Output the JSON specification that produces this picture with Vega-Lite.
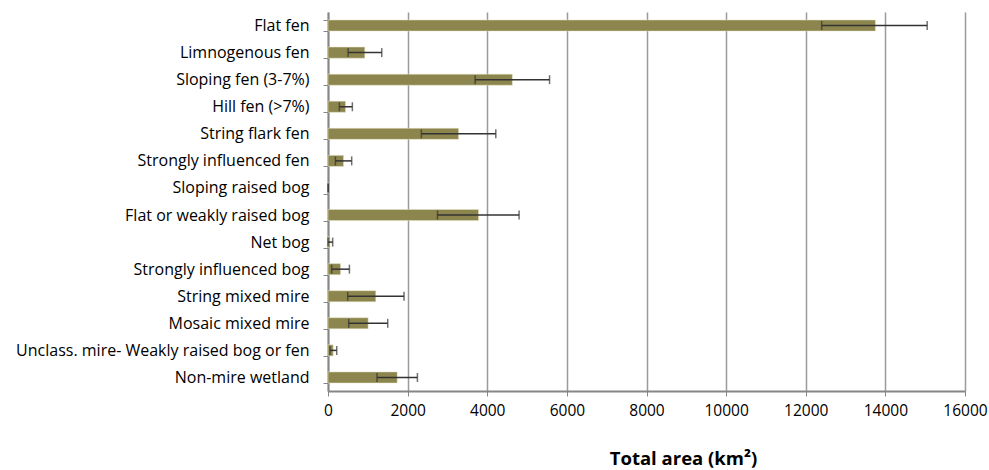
{
  "$schema": "https://vega.github.io/schema/vega-lite/v6.json",
  "width": 637,
  "height": 379,
  "autosize": "none",
  "padding": {"left": 328, "top": 12, "right": 24, "bottom": 79},
  "background": "white",
  "config": {
    "view": {"stroke": null},
    "font": "Open Sans"
  },
  "data": {
    "values": [
      {"type": "Flat fen", "area": 13750, "low": 12400, "high": 15050},
      {"type": "Limnogenous fen", "area": 925, "low": 505, "high": 1350},
      {"type": "Sloping fen (3-7%)", "area": 4630, "low": 3695, "high": 5565},
      {"type": "Hill fen (>7%)", "area": 440, "low": 285, "high": 612},
      {"type": "String flark fen", "area": 3280, "low": 2345, "high": 4215},
      {"type": "Strongly influenced fen", "area": 390, "low": 186, "high": 595},
      {"type": "Sloping  raised bog", "area": 5, "low": 5, "high": 5},
      {"type": "Flat or weakly raised bog", "area": 3780, "low": 2750, "high": 4800},
      {"type": "Net bog", "area": 50, "low": 0, "high": 118},
      {"type": "Strongly influenced bog", "area": 315, "low": 93, "high": 538},
      {"type": "String mixed mire", "area": 1200, "low": 495, "high": 1910},
      {"type": "Mosaic mixed mire", "area": 1008, "low": 520, "high": 1500},
      {"type": "Unclass. mire- Weakly raised bog or fen", "area": 130, "low": 50, "high": 219},
      {"type": "Non-mire wetland", "area": 1738, "low": 1231, "high": 2246}
    ]
  },
  "encoding": {
    "y": {
      "field": "type",
      "type": "nominal",
      "sort": null,
      "scale": {"paddingInner": 0.59, "paddingOuter": 0.295},
      "axis": {
        "title": null,
        "tickBand": "extent",
        "tickSize": 5,
        "tickColor": "#868686",
        "tickWidth": 1,
        "domainColor": "#868686",
        "domainWidth": 2,
        "labelFontSize": 16,
        "labelColor": "#000000",
        "labelPadding": 14,
        "labelLimit": 400,
        "grid": false
      }
    }
  },
  "layer": [
    {
      "mark": {"type": "bar", "color": "#8C864E", "stroke": "#E8E4C8", "strokeWidth": 0.5},
      "encoding": {
        "x": {
          "field": "area",
          "type": "quantitative",
          "scale": {"domain": [0, 16000], "nice": false},
          "axis": {
            "title": "Total area (km²)",
            "titleFontSize": 18.5,
            "titleFontWeight": "bold",
            "titleColor": "#000000",
            "titleX": 355,
            "titleY": 73,
            "titleBaseline": "alphabetic",
            "values": [0, 2000, 4000, 6000, 8000, 10000, 12000, 14000, 16000],
            "format": "d",
            "labelFontSize": 15.5,
            "labelColor": "#000000",
            "labelPadding": 7,
            "labelFlush": false,
            "tickSize": 5,
            "tickColor": "#868686",
            "domainColor": "#868686",
            "domainWidth": 2,
            "grid": true,
            "gridColor": "#9A9A9A",
            "gridWidth": 1.5
          }
        }
      }
    },
    {
      "mark": {"type": "rule", "color": "#333333", "strokeWidth": 1.5},
      "encoding": {
        "x": {"field": "low", "type": "quantitative"},
        "x2": {"field": "high"}
      }
    },
    {
      "mark": {"type": "tick", "color": "#333333", "thickness": 1.5, "size": 9},
      "encoding": {
        "x": {"field": "low", "type": "quantitative"}
      }
    },
    {
      "mark": {"type": "tick", "color": "#333333", "thickness": 1.5, "size": 9},
      "encoding": {
        "x": {"field": "high", "type": "quantitative"}
      }
    }
  ]
}
